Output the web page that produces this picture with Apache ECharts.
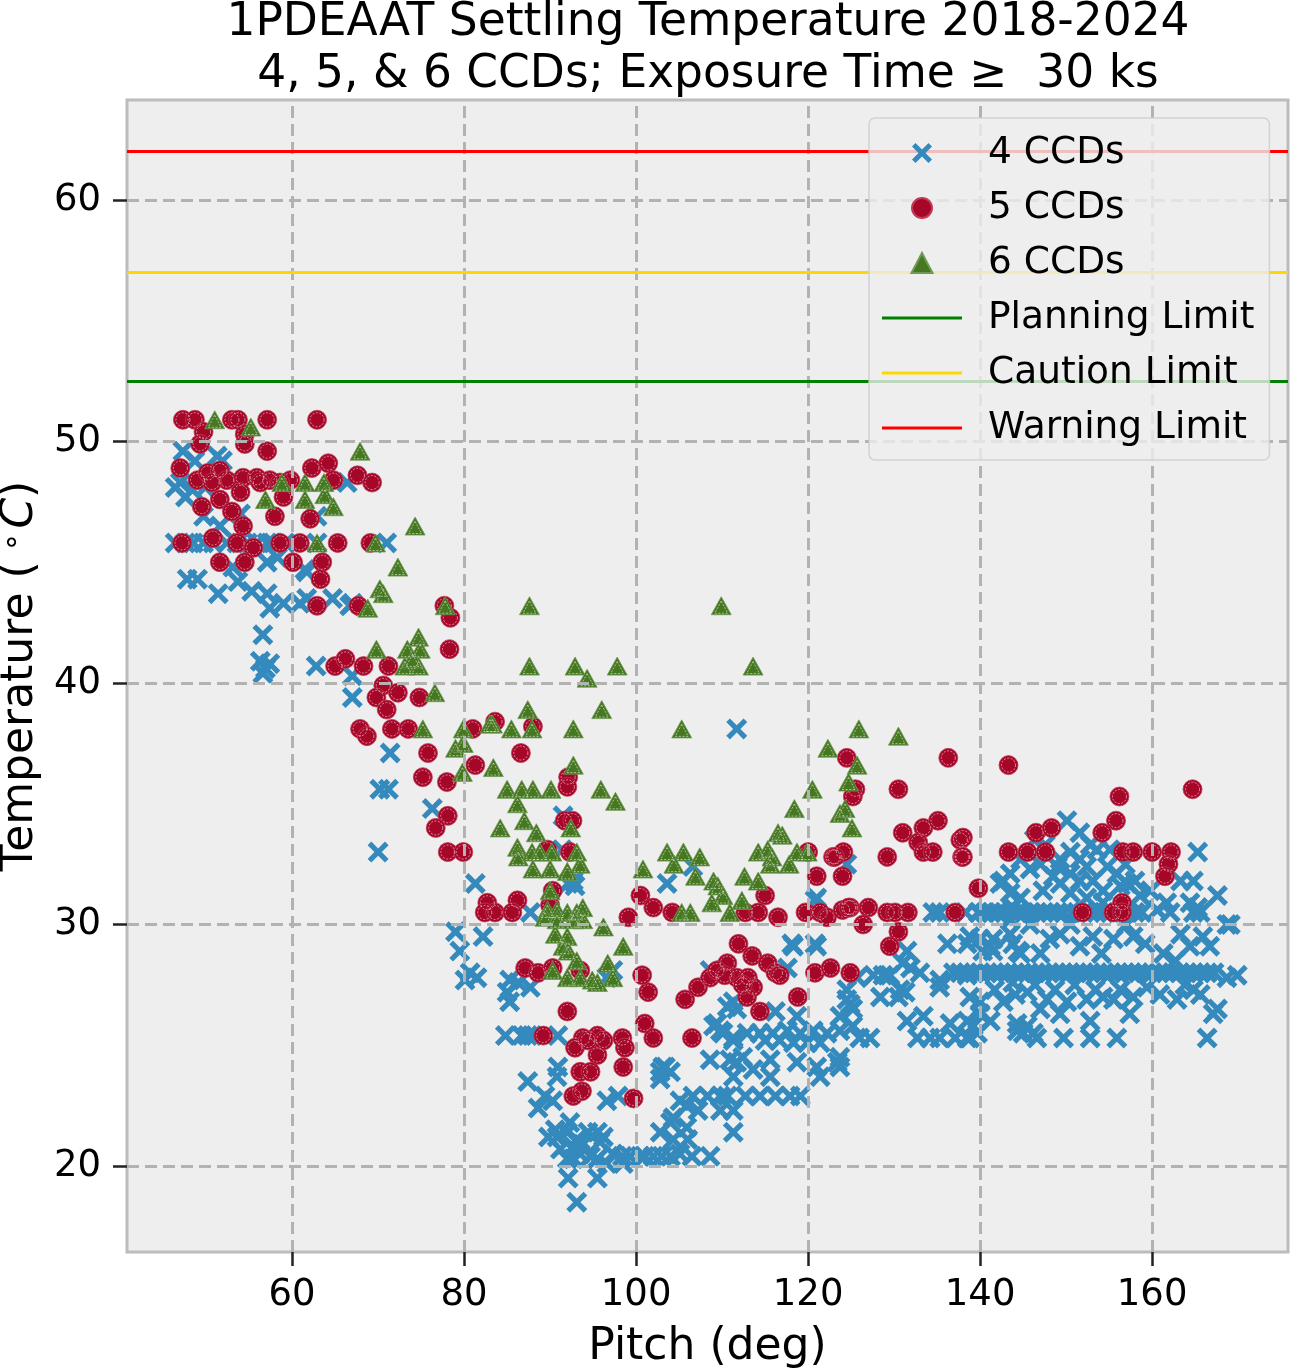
<!DOCTYPE html>
<html><head><meta charset="utf-8">
<script src="https://cdn.jsdelivr.net/npm/echarts@6/dist/echarts.min.js"></script>
<style>html,body{margin:0;padding:0;background:#fff}#c{width:1292px;height:1368px}</style>
</head><body><div id="c"></div>
<script>
const titleLines = ['1PDEAAT Settling Temperature 2018-2024', '4, 5, & 6 CCDs; Exposure Time \u2265  30 ks'];
const xTicks = [60, 80, 100, 120, 140, 160];
const yTicks = [20, 30, 40, 50, 60];
const xRange = [40.8, 175.8];
const yRange = [16.44, 64.14];
const seriesNames = ['4 CCDs', '5 CCDs', '6 CCDs'];
const limitNames = ['Planning Limit', 'Caution Limit', 'Warning Limit'];
const limitValues = [52.5, 57, 62];

const ccd4 = [
[47.3,49.6],[48.7,49.2],[51.3,49.4],[51.9,49.2],[47.0,48.3],[46.4,48.1],[48.4,48.0],[49.9,48.1],[47.6,47.7],[66.4,48.3],
[49.7,46.9],[54.0,47.0],[62.9,46.9],[51.6,46.5],
[46.4,45.8],[47.6,45.8],[48.5,45.8],[49.7,45.8],[50.8,45.8],[52.4,45.8],[53.6,45.8],[54.8,45.8],[55.9,45.8],[57.1,45.8],[57.8,45.8],[59.2,45.8],[62.9,45.8],[71.0,45.8],
[57.1,45.0],[58.3,45.2],[53.1,44.8],[61.7,44.6],
[47.8,44.3],[49.0,44.3],[51.4,43.7],[53.7,44.2],[55.3,43.8],[57.1,43.7],[57.4,43.1],[59.0,43.3],[60.9,43.3],[64.7,43.5],[67.0,43.3],
[56.6,42.0],[56.3,40.9],[57.4,40.8],[56.6,40.4],[56.9,40.6],
[62.8,40.7],[67.0,40.3],[67.0,39.4],
[61.5,44.7],[61.7,43.5],[66.7,43.2],
[71.4,37.1],[70.2,35.6],[71.2,35.6],[76.3,34.8],[70.0,33.0],
[81.3,31.7],
[79.0,29.7],[79.5,28.9],[82.2,29.5],[80.7,28.0],[81.5,27.8],[80.1,27.7],[85.3,27.7],[86.3,27.6],[85.0,27.2],[87.7,27.4],[85.3,26.8],[87.7,30.5],[91.4,33.1],[92.1,31.7],[92.7,31.8],[92.9,31.6],[91.5,34.5],[96.6,27.8],[97.3,28.1],
[84.8,25.4],[86.7,25.4],[87.4,25.4],[87.9,25.4],[90.9,25.4],
[90.9,24.1],[87.4,23.5],[90.8,23.7],[89.4,22.9],[88.6,22.4],[90.3,22.7],[96.6,22.7],[97.9,22.9],[102.8,23.9],[103.4,24.1],
[92.3,21.8],[90.8,21.2],[92.0,21.4],[93.1,21.1],[94.4,21.4],[95.5,21.4],[96.2,21.2],[91.2,20.7],[92.7,20.8],[93.8,20.9],[95.8,21.0],[93.5,20.5],[94.7,20.4],[97.3,20.5],[98.4,20.4],[92.0,20.3],[92.7,20.3],[95.5,20.3],[96.6,20.1],[98.5,20.1],[92.1,19.5],[95.5,19.5],[93.1,18.5],[89.8,21.2],[90.6,21.5],
[100.5,20.4],[102.0,20.4],[103.0,20.4],[104.0,20.4],[105.1,20.5],[106.5,20.4],[108.6,20.4],[99.3,20.4],[101.0,20.4],
[102.8,21.4],[104.0,21.8],[104.3,22.0],[105.9,21.6],[104.3,21.1],[106.0,21.1],[111.3,21.4],
[105.1,22.7],[106.6,22.9],[108.3,22.9],[109.8,22.9],[110.6,22.9],[107.2,22.3],[105.9,22.5],[109.8,22.3],[111.3,22.3],[112.7,22.9],[114.4,22.9],[116.2,22.9],[117.9,22.9],[119.1,22.9],
[109.0,25.8],[110.1,25.5],[111.3,25.2],[111.7,26.5],[108.6,24.4],
[111.7,38.1],[106.6,32.4],[103.6,31.7],
[118.1,29.2],[120.8,29.2],[117.6,28.2],[108.6,28.1],
[110.6,26.6],[111.3,26.8],[116.2,26.4],[118.7,26.2],
[109.4,25.9],[109.8,25.6],[111.3,25.3],[112.9,25.5],[114.4,25.5],[115.9,25.5],[117.6,25.6],[119.1,25.5],[120.6,25.6],[122.2,25.5],[123.7,25.6],[125.2,25.8],
[116.7,25.2],[118.3,25.1],[119.9,25.1],[121.4,25.1],[115.0,25.2],
[110.9,24.4],[111.7,24.3],[112.4,24.5],[113.6,24.0],[115.6,24.4],[118.7,24.3],[121.0,24.1],[123.4,24.3],
[103.1,24.1],[102.8,23.6],[104.0,23.9],
[111.3,23.7],[115.6,23.7],[121.4,23.7],
[124.5,26.9],[125.2,26.5],[123.7,26.2],
[120.8,31.0],[121.0,29.1],[118.3,29.1],[124.5,32.5],[121.0,31.1],
[134.5,30.5],[135.3,30.5],[138.3,30.5],
[136.2,29.2],[138.5,29.2],[140.0,29.4],[131.5,28.9],[131.0,28.4],[131.9,28.2],[140.3,28.9],[141.5,28.9],[143.8,29.2],[144.7,28.8],
[125.7,27.8],[127.6,27.9],[128.7,27.9],[129.5,27.9],[133.0,28.0],[135.3,27.7],[136.9,28.0],[138.5,27.9],[130.7,27.3],[135.3,27.4],[124.5,27.3],
[128.4,27.0],[130.5,27.0],[131.3,27.2],[124.9,26.7],
[131.5,26.0],[133.4,26.2],[136.5,25.9],[138.5,26.0],[140.0,26.3],[141.2,26.0],[139.2,25.8],[144.3,25.9],[145.5,25.8],
[126.0,25.3],[127.2,25.3],[132.7,25.3],[134.2,25.3],[135.3,25.3],[137.1,25.3],[138.5,25.3],[145.0,25.5],[146.2,25.5],
[123.7,24.5],[123.7,24.1],
[142.3,31.7],[143.5,31.3],[143.8,30.7],[143.5,30.2],[141.5,29.4],[143.8,27.6],
[150.1,34.3],[151.6,33.8],[153.6,33.1],[150.5,33.0],[149.3,32.7],[149.0,32.4],[151.6,32.7],[152.4,32.4],[154.8,32.4],[155.9,32.1],[150.5,32.1],[148.5,32.0],[143.5,32.1],[142.7,31.8],[144.7,31.1],[147.3,31.4],[149.3,31.7],[151.6,31.8],[153.1,31.8],[154.3,31.4],[156.3,31.6],[157.1,31.7],[150.5,31.3],[152.4,31.1],[154.3,30.9],
[146.3,33.5],[147.6,33.3],[144.7,32.7],[145.8,32.3],[147.0,32.5],[152.8,33.3],[155.1,33.1],[156.9,32.5],[158.0,31.8],[158.6,31.2],[159.8,31.4],[163.3,31.8],
[165.3,33.0],[164.8,31.8],[167.6,31.2],[161.7,30.9],[164.4,30.9],[165.6,30.5],[162.1,30.5],[169.1,30.0],[160.6,30.6],
[139.8,30.5],[140.6,30.5],[141.3,30.5],[142.0,30.5],[142.8,30.5],[143.6,30.5],[144.3,30.5],[145.1,30.5],[145.9,30.5],[146.6,30.5],[147.4,30.5],[148.2,30.5],[149.0,30.5],[149.7,30.5],[150.6,30.5],[151.3,30.5],[152.0,30.5],[152.8,30.5],[153.6,30.5],[154.4,30.5],[155.1,30.5],[156.0,30.5],[157.0,30.5],[158.0,30.5],[158.8,30.5],
[164.8,30.5],[165.3,30.7],[168.7,30.0],
[138.8,29.5],[141.2,29.1],[143.5,29.6],[144.4,28.9],[148.1,29.4],[149.3,29.6],[151.6,29.1],[153.1,29.5],[155.5,29.4],[157.8,29.5],[161.3,28.8],[164.4,29.1],[165.9,29.5],[166.7,29.1],
[145.8,30.0],[147.0,28.8],[150.5,30.0],[154.1,28.8],[157.0,30.0],[159.2,29.2],[163.3,29.6],[162.7,28.5],
[137.7,28.0],[138.5,28.0],[139.3,28.0],[140.0,28.0],[140.8,28.0],[141.6,28.0],[142.4,28.0],[143.2,28.0],[144.0,28.0],[144.8,28.0],[145.6,28.0],[146.4,28.0],[147.2,28.0],[148.0,28.0],[148.8,28.0],[149.6,28.0],[150.4,28.0],[151.2,28.0],[152.0,28.0],[152.8,28.0],[153.6,28.0],[154.4,28.0],[155.2,28.0],[156.0,28.0],[156.8,28.0],[157.6,28.0],[158.4,28.0],[159.2,28.0],[160.0,28.0],[160.8,28.0],[161.6,28.0],[162.4,28.0],[163.2,28.0],[164.0,28.0],[164.8,28.0],[165.6,28.0],[166.4,28.0],[167.2,28.0],[169.9,27.9],[168.7,27.8],
[138.8,27.0],[140.0,26.8],[142.7,26.8],[145.5,27.2],[147.8,26.9],[150.1,26.8],[152.4,26.9],[154.3,27.0],[155.5,26.9],[157.8,27.0],[159.4,27.4],[162.9,26.9],[164.8,27.3],[167.6,26.5],[167.1,26.3],
[141.7,27.3],[144.1,27.1],[146.4,27.5],[148.7,27.3],[151.0,27.5],[153.4,27.3],[156.3,27.3],[160.9,27.1],[163.8,27.5],[165.6,27.1],[149.3,26.3],[152.8,26.0],[157.4,26.3],[147.0,26.5],
[138.8,25.3],[139.7,25.5],[144.3,25.6],[146.6,25.3],[149.7,25.3],[152.8,25.3],[155.9,25.3],[166.4,25.3]
];

const ccd5 = [
[47.3,50.9],[48.7,50.9],[53.0,50.9],[53.7,50.9],[57.1,50.9],[62.9,50.9],
[49.7,50.4],[49.3,49.9],[54.5,50.3],[54.5,49.9],[57.1,49.6],
[47.0,48.9],[62.3,48.9],[64.2,49.1],
[49.0,48.4],[50.2,48.7],[51.6,48.8],[52.4,48.4],[54.3,48.5],[55.9,48.5],[57.4,48.4],[59.8,48.4],[64.8,48.4],[67.6,48.6],[69.3,48.3],[50.7,48.3],[56.3,48.3],[58.6,48.3],
[54.0,47.9],[59.0,47.7],[51.6,47.6],[49.5,47.3],[53.0,47.1],[58.0,46.9],[62.1,46.8],[54.3,46.5],
[50.8,46.0],
[47.2,45.8],[53.6,45.8],[55.5,45.6],[58.6,45.8],[60.9,45.8],[65.3,45.8],[69.1,45.8],
[51.6,45.0],[54.5,45.0],[60.1,45.0],[63.5,45.0],
[63.3,44.3],
[62.9,43.2],[67.7,43.2],
[65.0,40.7],[66.2,41.0],[68.3,40.7],[71.2,40.7],
[77.7,43.2],[78.4,42.7],[78.3,41.4],
[70.6,39.9],[72.3,39.6],[69.8,39.4],[74.8,39.4],[71.0,38.9],
[67.9,38.1],[68.7,37.8],[71.6,38.1],[73.5,38.1],
[75.8,37.1],[81.0,38.1],
[75.2,36.1],[78.0,35.9],[81.3,36.6],
[78.1,34.5],[76.7,34.0],
[78.1,33.0],[79.9,33.0],
[83.6,38.4],[88.0,38.2],[86.6,37.1],
[92.1,36.1],[92.0,35.7],
[91.7,34.3],[92.6,34.3],
[89.7,33.1],[92.3,33.0],
[90.3,31.4],[82.7,30.9],[82.4,30.5],[83.6,30.5],[86.2,31.0],[85.6,30.5],[90.0,30.8],[100.5,31.2],[99.1,30.3],
[87.1,28.2],[88.6,28.0],[90.3,28.2],[93.5,28.1],
[92.0,26.4],
[89.2,25.4],[93.8,25.3],[95.5,25.4],[92.9,24.9],[95.5,24.6],[98.4,25.3],[98.7,24.9],[98.5,24.1],[101.0,25.9],[102.0,25.3],[106.5,25.3],[94.4,25.2],[96.2,25.2],
[93.5,23.9],[94.7,23.9],[92.7,22.9],[93.7,23.1],[99.7,22.8],
[101.4,27.2],[105.7,26.9],[107.2,27.4],[100.7,27.9],
[102.0,30.7],[104.2,30.5],
[115.0,31.2],[112.7,30.5],[114.2,30.5],[116.5,30.3],
[121.0,32.0],[122.9,32.8],[124.1,33.0],[124.0,32.0],
[119.7,30.5],[121.4,30.5],[122.2,30.3],[124.0,30.6],[124.9,30.7],
[111.9,29.2],[113.5,28.7],[110.6,28.4],[115.3,28.4],[116.2,28.0],
[108.6,27.8],[109.4,28.1],[111.7,27.8],[113.0,27.8],[113.6,27.4],[112.9,27.0],[114.4,26.4],[110.3,27.9],[112.4,27.5],
[118.8,27.0],
[120.8,28.0],[122.6,28.2],[124.9,28.0],
[124.5,36.9],[136.3,36.9],[143.3,36.6],
[125.5,35.6],[130.5,35.6],[125.2,35.3],
[131.0,33.8],[133.4,34.0],[135.1,34.3],[132.8,33.4],[133.4,33.0],[134.5,33.0],[137.7,33.5],[137.9,32.8],
[143.3,33.0],
[120.0,33.0],[123.1,32.8],[129.2,32.8],
[139.8,31.5],
[124.7,30.7],[127.0,30.7],[126.4,30.0],[129.2,30.5],[130.1,30.5],[131.6,30.5],[130.5,29.7],[129.5,29.1],[137.1,30.5],
[116.7,27.9],
[156.2,35.3],[164.7,35.6],[155.8,34.3],[154.2,33.8],[146.5,33.8],[148.3,34.0],
[145.5,33.0],[147.6,33.0],[156.6,33.0],[157.8,33.0],[160.0,33.0],[162.2,33.0],[161.9,32.5],[161.5,32.0],[138.0,33.6],[138.0,32.8],
[151.9,30.5],[155.5,30.5],[156.5,30.9],[156.5,30.5]
];

const ccd6 = [
[51.0,50.9],[55.2,50.6],[67.9,49.6],
[58.8,48.3],[61.5,48.3],[63.7,48.3],[63.8,47.8],[61.5,47.6],[56.9,47.6],[64.8,47.3],
[62.9,45.8],[69.7,45.8],[72.3,44.8],[70.2,43.9],[70.6,43.7],[68.8,43.1],[74.3,46.5],
[77.8,43.2],
[69.8,41.4],[73.4,41.4],[74.7,41.9],[74.9,41.4],[73.1,40.7],[74.7,40.7],[74.0,41.0],
[76.6,39.6],
[75.2,38.1],[79.9,38.1],[79.0,37.3],[79.8,36.3],[83.3,38.3],[83.4,36.5],[84.2,34.0],[79.9,37.5],
[87.6,43.2],
[87.6,40.7],[92.9,40.7],[97.8,40.7],[94.3,40.2],
[87.4,38.9],[96.0,38.9],
[83.0,38.3],[85.5,38.1],[87.9,38.1],[92.7,38.1],
[92.7,36.6],
[85.0,35.6],[86.7,35.6],[88.0,35.6],[90.1,35.6],[95.9,35.6],[97.6,35.1],[86.2,35.0],
[87.0,34.3],[92.4,34.0],[88.4,33.8],
[86.2,33.2],[86.3,32.8],[87.9,33.0],[88.8,33.0],[90.2,33.0],[93.1,33.0],[88.0,32.3],[90.0,32.3],[93.5,32.5],[92.0,32.2],
[90.0,31.4],
[89.7,30.6],[90.8,30.6],[92.0,30.5],[93.1,30.5],[93.8,30.7],[89.4,30.3],[90.8,30.2],[92.7,30.2],[93.8,30.2],[96.2,29.9],[98.5,29.1],
[90.6,29.6],[92.0,29.5],[91.5,29.1],[92.1,28.9],[93.1,28.5],[96.7,28.4],[97.3,27.8],
[90.3,28.1],[92.0,27.8],[93.5,27.8],[94.9,27.7],[95.5,27.6],
[109.9,43.2],[113.6,40.7],
[105.3,38.1],[125.9,38.1],[130.5,37.8],
[122.3,37.3],[125.7,36.6],[124.7,35.9],[120.5,35.6],
[118.4,34.8],[123.7,34.6],[124.3,34.8],[125.1,34.0],
[116.5,33.8],[114.2,33.0],[115.3,33.1],[118.7,33.0],[119.9,33.0],[115.6,32.5],[117.8,32.5],
[103.6,33.0],[105.5,33.0],[104.4,32.5],[107.4,32.8],[106.9,32.0],[100.8,32.3],[112.6,32.0],[114.2,31.8],[109.0,31.8],[109.5,31.6],[110.1,31.2],[108.8,30.9],[112.3,31.0],[110.9,30.5],[105.3,30.5],[106.3,30.5],
[115.8,32.8],[117.0,33.7]
];

const FONT = 'DejaVu Sans';
const xSymbol = 'path://M0,3.5L3.5,0L10,6.5L16.5,0L20,3.5L13.5,10L20,16.5L16.5,20L10,13.5L3.5,20L0,16.5L6.5,10Z';
const triSymbol = 'path://M10,0L20,19L0,19Z';
const lineIcon = 'path://M0,0L80,0L80,3L0,3Z';
const colors4 = '#348ABD', colors5 = '#A60628', colors6 = '#467821';
const limitColors = ['#008000', '#FFD700', '#FF0000'];

const chart = echarts.init(document.getElementById('c'), null, {renderer: 'canvas'});

const gridLineData = xTicks.map(v => ({xAxis: v})).concat(yTicks.map(v => ({yAxis: v})));

const series = [
  {
    type: 'line', name: '_grid', data: [], z: 1, silent: true,
    markLine: {
      silent: true, symbol: 'none', animation: false,
      label: {show: false},
      lineStyle: {color: '#b2b2b2', type: [12, 6], width: 3},
      data: gridLineData
    }
  },
  {
    type: 'scatter', name: seriesNames[0], data: ccd4, symbol: xSymbol, symbolSize: 21, symbolKeepAspect: true,
    itemStyle: {color: colors4, opacity: 1}, z: 2
  },
  {
    type: 'scatter', name: seriesNames[1], data: ccd5, symbol: 'circle', symbolSize: 19,
    itemStyle: {color: colors5, borderColor: '#c23a55', borderWidth: 0.8, opacity: 1}, z: 2
  },
  {
    type: 'scatter', name: '_ring5', data: ccd5, symbol: 'circle', symbolSize: 14, silent: true,
    itemStyle: {color: 'rgba(0,0,0,0)', borderColor: 'rgba(255,255,255,0.85)', borderWidth: 0.8, borderType: [2, 1.5]}, z: 2
  },
  {
    type: 'scatter', name: seriesNames[2], data: ccd6, symbol: triSymbol, symbolSize: [20, 19], symbolKeepAspect: true,
    itemStyle: {color: colors6, borderColor: '#6f9a55', borderWidth: 0.8, opacity: 1}, z: 2
  },
  {
    type: 'scatter', name: '_ring6', data: ccd6, symbol: triSymbol, symbolSize: [13, 12], symbolOffset: [0, 1.5], silent: true,
    itemStyle: {color: 'rgba(0,0,0,0)', borderColor: 'rgba(255,255,255,0.85)', borderWidth: 0.8, borderType: [2, 1.5]}, z: 2
  }
];
limitNames.forEach((n, i) => {
  series.push({
    type: 'line', name: n, data: [], symbol: 'none', showSymbol: false, z: 3,
    lineStyle: {color: limitColors[i], width: 3},
    itemStyle: {color: limitColors[i]},
    markLine: {
      silent: true, symbol: 'none', animation: false, label: {show: false},
      lineStyle: {color: limitColors[i], width: 3.2, type: 'solid'},
      data: [{yAxis: limitValues[i]}]
    }
  });
});

const legendData = [
  {name: seriesNames[0], icon: xSymbol},
  {name: seriesNames[1], icon: 'circle'},
  {name: seriesNames[2], icon: triSymbol}
].concat(limitNames.map(n => ({name: n, icon: lineIcon})));

chart.setOption({
  animation: false,
  backgroundColor: '#ffffff',
  title: {
    text: titleLines.join('\n'),
    left: 708, top: -3, textAlign: 'center', padding: 0,
    textStyle: {fontFamily: FONT, fontSize: 45.5, fontWeight: 'normal', color: '#000', lineHeight: 52}
  },
  grid: {
    left: 127, top: 100, right: 4, bottom: 116, show: true, outerBoundsMode: 'none',
    backgroundColor: '#eeeeee', borderColor: '#bcbcbc', borderWidth: 3, containLabel: false
  },
  legend: {
    data: legendData,
    orient: 'vertical', left: 869, top: 118,
    padding: [15, 15, 12, 13], itemGap: 15, itemWidth: 80, itemHeight: 20,
    backgroundColor: 'rgba(238,238,238,0.8)', borderColor: 'rgba(204,204,204,0.8)', borderWidth: 1.5, borderRadius: 6,
    selectedMode: false,
    textStyle: {fontFamily: FONT, fontSize: 37.5, color: '#000', lineHeight: 40, padding: [0, 0, 0, 21]},
    z: 10
  },
  xAxis: {
    type: 'value', min: xRange[0], max: xRange[1],
    name: 'Pitch (deg)', nameLocation: 'middle', nameGap: 74,
    nameTextStyle: {fontFamily: FONT, fontSize: 44, color: '#000'},
    axisLine: {show: false},
    axisTick: {show: true, customValues: xTicks, length: 14, lineStyle: {color: '#222', width: 2.5}},
    axisLabel: {customValues: xTicks, fontFamily: FONT, fontSize: 37, color: '#000', margin: 25},
    splitLine: {show: false}
  },
  yAxis: {
    type: 'value', min: yRange[0], max: yRange[1],
    name: 'Temperature ({s|\u2218}{i|C})', nameLocation: 'middle', nameGap: 77,
    nameTextStyle: {
      fontFamily: FONT, fontSize: 44, color: '#000',
      rich: {
        s: {fontFamily: FONT, fontSize: 30, color: '#000', padding: [0, 4, 16, 10]},
        i: {fontFamily: FONT, fontSize: 44, fontStyle: 'italic', color: '#000'}
      }
    },
    axisLine: {show: false},
    axisTick: {show: true, customValues: yTicks, length: 14, lineStyle: {color: '#222', width: 2.5}},
    axisLabel: {customValues: yTicks, fontFamily: FONT, fontSize: 37, color: '#000', margin: 26},
    splitLine: {show: false}
  },
  series: series
});
</script>
</body></html>
